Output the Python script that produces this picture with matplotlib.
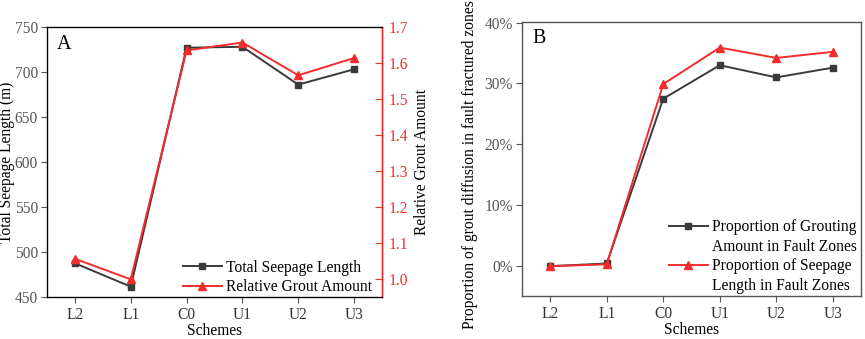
import matplotlib
matplotlib.use("Agg")
import matplotlib.pyplot as plt
from matplotlib.ticker import FuncFormatter
from matplotlib.lines import Line2D

plt.rcParams['font.family'] = ['Liberation Serif', 'DejaVu Serif']

schemes = ["L2", "L1", "C0", "U1", "U2", "U3"]
seepage_length = [487.5, 461.5, 727, 728, 686, 703]
relative_grout = [1.057, 1.000, 1.635, 1.657, 1.566, 1.614]
prop_grouting = [0.0, 0.44, 27.5, 33.0, 31.0, 32.6]
prop_seepage = [0.0, 0.3, 29.9, 35.9, 34.2, 35.2]

BLACK = "#3a3a3a"
RED = "#f22c2c"
SPINE = "#555555"
TICKC = "#555555"
FS = 11.2

fig = plt.figure(figsize=(8.65, 3.39), dpi=100)
W, H = 865, 339

def ax_rect(l, t, r, b):
    return [l / W, 1 - b / H, (r - l) / W, (b - t) / H]

x = list(range(len(schemes)))

# Panel A
axA = fig.add_axes(ax_rect(47, 27, 382, 297))
axA.plot(x, seepage_length, color=BLACK, marker="s", markersize=5, lw=1.4,
         label="Total Seepage Length")
axA.set_xlim(-0.5, 5.5)
axA.set_ylim(450, 750)
axA.set_yticks([450, 500, 550, 600, 650, 700, 750])
axA.set_xticks(x)
axA.set_xticklabels(schemes)
axA.set_ylabel("Total Seepage Length (m)", fontsize=FS)
axA.yaxis.set_label_coords(-0.095, 0.5)
axA.set_xlabel("Schemes", fontsize=FS, labelpad=0)
axA.tick_params(axis="both", labelsize=FS, colors=TICKC, length=4.5, width=0.8, pad=2)
axA.tick_params(axis="x", labelcolor="#333333", pad=3)
for s in axA.spines.values():
    s.set_color(SPINE)
    s.set_linewidth(1.0)
axA.text(0.03, 0.97, "A", transform=axA.transAxes, fontsize=14.5, va="top", ha="left")

axA2 = axA.twinx()
axA2.plot(x, relative_grout, color=RED, marker="^", markersize=5.5, lw=1.4,
          label="Relative Grout Amount")
axA2.set_ylim(0.951, 1.7)
axA2.set_yticks([1.0, 1.1, 1.2, 1.3, 1.4, 1.5, 1.6, 1.7])
axA2.yaxis.set_major_formatter(FuncFormatter(lambda v, p: f"{v:.1f}"))
axA2.tick_params(axis="y", labelsize=FS, colors=RED, length=5, width=0.8, pad=4.5,
                 direction="in")
axA2.spines["right"].set_color(RED)
axA2.spines["right"].set_linewidth(1.0)
axA2.set_ylabel("Relative Grout Amount", fontsize=FS, color="black")
axA2.yaxis.set_label_coords(1.0955, 0.5)
axA2.set_zorder(axA.get_zorder() + 1)

h1, l1 = axA.get_legend_handles_labels()
h2, l2 = axA2.get_legend_handles_labels()
axA2.legend(h1 + h2, l1 + l2, loc="lower right", bbox_to_anchor=(0.974, 0.0),
            frameon=False, fontsize=FS, handlelength=2.5, handletextpad=0.25,
            borderaxespad=0.0, labelspacing=0.25, borderpad=0.1)

# Panel B
axB = fig.add_axes(ax_rect(522, 22, 861, 296))
lg, = axB.plot(x, prop_grouting, color=BLACK, marker="s", markersize=5, lw=1.4)
ls, = axB.plot(x, prop_seepage, color=RED, marker="^", markersize=5.5, lw=1.4)
axB.set_xlim(-0.5, 5.5)
axB.set_ylim(-4.9, 40.1)
axB.set_yticks([0, 10, 20, 30, 40])
axB.yaxis.set_major_formatter(FuncFormatter(lambda v, p: f"{v:.0f}%"))
axB.set_xticks(x)
axB.set_xticklabels(schemes)
axB.set_ylabel("Proportion of grout diffusion in fault fractured zones", fontsize=FS)
axB.yaxis.set_label_coords(-0.130, 0.480)
axB.set_xlabel("Schemes", fontsize=FS, labelpad=0)
axB.tick_params(axis="both", labelsize=FS, colors=TICKC, length=4.5, width=0.8, pad=2)
axB.tick_params(axis="x", labelcolor="#333333", pad=3)
for s in axB.spines.values():
    s.set_color(SPINE)
    s.set_linewidth(1.0)
axB.text(0.03, 0.975, "B", transform=axB.transAxes, fontsize=14.5, va="top", ha="left")
blank = Line2D([], [], color="none")
axB.legend([lg, blank, ls, blank],
           ["Proportion of Grouting", "Amount in Fault Zones",
            "Proportion of Seepage", "Length in Fault Zones"],
           loc="lower right", bbox_to_anchor=(0.991, 0.003), frameon=False, fontsize=FS,
           handlelength=2.5, handletextpad=0.25, borderaxespad=0.0,
           labelspacing=0.22, borderpad=0.1)

fig.savefig("out.png", dpi=100)
